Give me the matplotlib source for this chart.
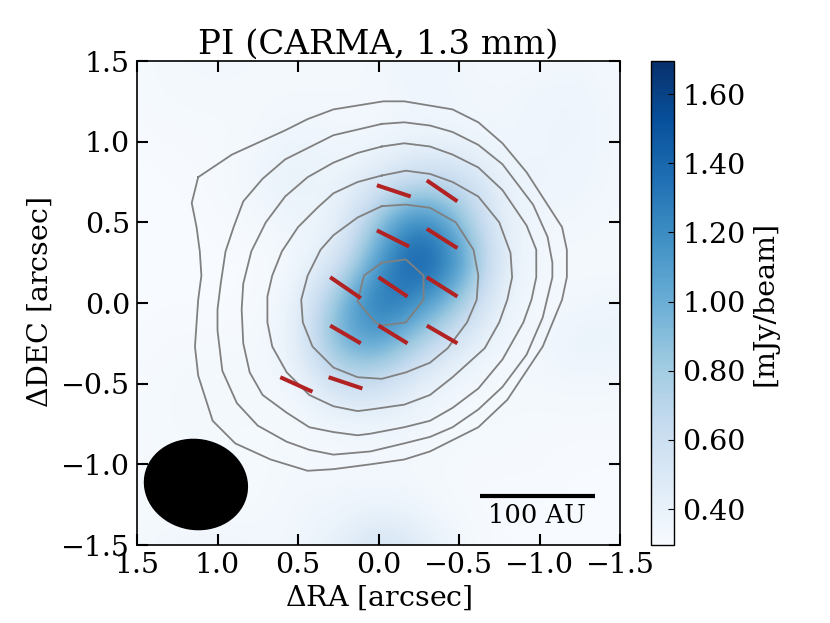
import numpy as np
import matplotlib
matplotlib.use("Agg")
import matplotlib.pyplot as plt
from matplotlib.patches import Ellipse

plt.rcParams['font.family'] = ['DejaVu Serif']
plt.rcParams['mathtext.fontset'] = 'dejavuserif'

# polarized intensity [mJy/beam], rows dec +1.5 -> -1.5, columns RA +1.5 -> -1.5 (step 0.25)
pi_map = np.array([
 [.31,.33,.34,.33,.32,.32,.33,.38,.34,.33,.33,.34,.32],
 [.31,.32,.32,.32,.33,.33,.33,.35,.35,.34,.36,.37,.33],
 [.30,.31,.31,.33,.38,.34,.34,.38,.36,.34,.36,.37,.33],
 [.30,.30,.31,.36,.42,.36,.50,.66,.66,.40,.36,.36,.33],
 [.30,.30,.30,.32,.37,.36,.88,1.35,.92,.42,.34,.34,.32],
 [.30,.30,.30,.30,.33,.50,1.14,1.54,1.22,.45,.32,.32,.31],
 [.30,.30,.30,.30,.38,.92,1.40,1.20,.82,.38,.32,.34,.36],
 [.30,.31,.31,.32,.40,1.00,1.10,.74,.48,.33,.34,.40,.37],
 [.31,.32,.33,.33,.34,.60,.60,.40,.33,.32,.33,.34,.33],
 [.31,.32,.33,.31,.32,.34,.36,.35,.32,.32,.31,.31,.31],
 [.31,.31,.31,.31,.33,.33,.32,.32,.31,.31,.31,.30,.30],
 [.31,.31,.31,.31,.35,.34,.37,.34,.31,.30,.30,.30,.30],
 [.32,.35,.36,.34,.34,.42,.58,.48,.33,.30,.30,.30,.30],
])

contour_1 = [(1.12,.78),(1.16,.62),(1.13,.47),(1.11,.32),(1.10,.17),(1.12,.02),(1.14,-.27),(1.12,-.45),
 (1.03,-.73),(.89,-.87),(.67,-.97),(.44,-1.04),(.28,-1.03),(.05,-1.00),(-.16,-.97),(-.32,-.92),(-.62,-.77),
 (-.80,-.60),(-1.02,-.27),(-1.14,.02),(-1.17,.16),(-1.17,.33),(-1.14,.47),(-1.03,.64),(-.92,.81),(-.77,.99),
 (-.62,1.12),(-.46,1.20),(-.16,1.25),(-.03,1.25),(.28,1.20),(.44,1.14),(.58,1.07),(.91,.92)]
contour_2 = [(-.02,1.11),(.28,1.04),(.44,.96),(.58,.89),(.72,.77),(.84,.63),(.90,.47),(.95,.32),(.98,.12),(1.0,-.04),(1.0,-.17),
 (.97,-.42),(.88,-.62),(.75,-.76),(.57,-.86),(.43,-.91),(.28,-.94),(.05,-.92),(-.16,-.87),(-.32,-.83),
 (-.46,-.77),(-.62,-.66),(-.77,-.52),(-.92,-.32),(-1.02,-.09),(-1.08,.16),(-1.08,.25),(-1.05,.41),(-.96,.61),
 (-.77,.86),(-.62,.98),(-.46,1.06),(-.32,1.10),(-.16,1.12)]
contour_3 = [(-.02,.97),(.13,.93),(.28,.87),(.44,.78),(.58,.66),(.70,.50),(.79,.32),(.84,.12),(.85,-.04),(.84,-.25),(.80,-.43),
 (.72,-.57),(.57,-.68),(.43,-.77),(.28,-.80),(.13,-.82),(.05,-.81),(-.16,-.77),(-.32,-.73),(-.46,-.65),
 (-.62,-.53),(-.77,-.35),(-.90,-.12),(-.95,.02),(-.98,.16),(-.98,.33),(-.92,.48),(-.77,.70),(-.62,.84),
 (-.46,.92),(-.32,.97),(-.16,.99)]
contour_4 = [(-.02,.79),(.13,.75),(.28,.68),(.38,.59),(.50,.47),(.60,.32),(.66,.17),(.69,.04),(.69,-.12),(.66,-.27),(.57,-.43),(.43,-.57),
 (.28,-.64),(.13,-.67),(.05,-.66),(-.16,-.63),(-.32,-.57),(-.46,-.46),(-.66,-.28),(-.75,-.12),(-.80,.02),
 (-.83,.16),(-.82,.31),(-.75,.50),(-.62,.66),(-.46,.75),(-.32,.80),(-.17,.82)]
contour_5 = [(-.02,.60),(-.17,.61),(-.32,.59),(-.48,.50),(-.59,.33),(-.62,.17),(-.61,.02),(-.55,-.12),(-.43,-.28),
 (-.32,-.37),(-.17,-.43),(-.02,-.47),(.13,-.46),(.28,-.40),(.41,-.27),(.47,-.12),(.48,.02),(.44,.17),(.36,.33),(.28,.42),(.13,.53)]
contour_6 = [(-.02,.25),(-.17,.27),(-.28,.17),(-.28,.02),(-.17,-.12),(-.02,-.14),(.02,-.12),(.13,.01),(.09,.17)]
contours = [contour_1, contour_2, contour_3, contour_4, contour_5, contour_6]

vectors = [((.01,.73),(-.20,.66)),((-.30,.76),(-.49,.63)),((.01,.45),(-.19,.35)),((-.30,.46),(-.49,.34)),
 ((0.,.16),(-.18,.04)),((-.30,.16),(-.49,.04)),((.30,.16),(.11,.03)),((.30,-.14),(.11,-.25)),
 ((0.,-.14),(-.18,-.25)),((-.30,-.14),(-.49,-.25)),((.31,-.46),(.10,-.53)),((.61,-.46),(.41,-.55))]

axis_ticks = [1.5, 1.0, 0.5, 0.0, -0.5, -1.0, -1.5]
cbar_ticks = [0.40, 0.60, 0.80, 1.00, 1.20, 1.40, 1.60]

W, H = 830, 623
fig = plt.figure(figsize=(W/100, H/100), dpi=100, facecolor='white')
ax = fig.add_axes([137/W, 1-545/H, 483/W, 484/H])
im = ax.imshow(pi_map, extent=(1.5+.125, -1.5-.125, -1.5-.125, 1.5+.125), cmap='Blues', vmin=0.296, vmax=1.696,
               interpolation='bicubic', aspect='auto', origin='upper')
for c in contours:
    pts = np.array(c + [c[0]])
    ax.plot(pts[:, 0], pts[:, 1], color='#808080', lw=1.3, solid_joinstyle='round')
for (a, b) in vectors:
    ax.plot([a[0], b[0]], [a[1], b[1]], color='#b22222', lw=2.9, solid_capstyle='butt')
ax.add_patch(Ellipse((1.134, -1.125), 0.65, 0.565, angle=10, facecolor='black', edgecolor='none', zorder=5))
ax.plot([-0.63, -1.345], [-1.197, -1.197], color='black', lw=3, solid_capstyle='butt')
ax.text(-0.985, -1.32, '100 AU', ha='center', va='center', fontsize=18.5)

ax.set_xlim(1.5, -1.5)
ax.set_ylim(-1.5, 1.5)
ax.set_xticks(axis_ticks)
ax.set_yticks(axis_ticks)
ax.tick_params(direction='in', top=True, right=True, length=8, width=1.5, labelsize=20.5, pad=5)
ax.set_xlabel(r'$\Delta$RA [arcsec]', fontsize=20.5, labelpad=3)
ax.set_ylabel(r'$\Delta$DEC [arcsec]', fontsize=20.5, labelpad=5)
ax.set_title('PI (CARMA, 1.3 mm)', fontsize=24.5, pad=5)
for s in ax.spines.values():
    s.set_linewidth(1.2)

cax = fig.add_axes([651/W, 1-545/H, 23/W, 484/H])
cb = fig.colorbar(im, cax=cax)
cb.set_ticks(cbar_ticks)
cb.set_ticklabels([f'{t:.2f}' for t in cbar_ticks])
cax.tick_params(direction='in', length=4, width=0.8, labelsize=20.5, pad=6)
cb.outline.set_linewidth(1.0)
cb.set_label('[mJy/beam]', fontsize=20.5, labelpad=4)

fig.savefig('out.png', dpi=100)
